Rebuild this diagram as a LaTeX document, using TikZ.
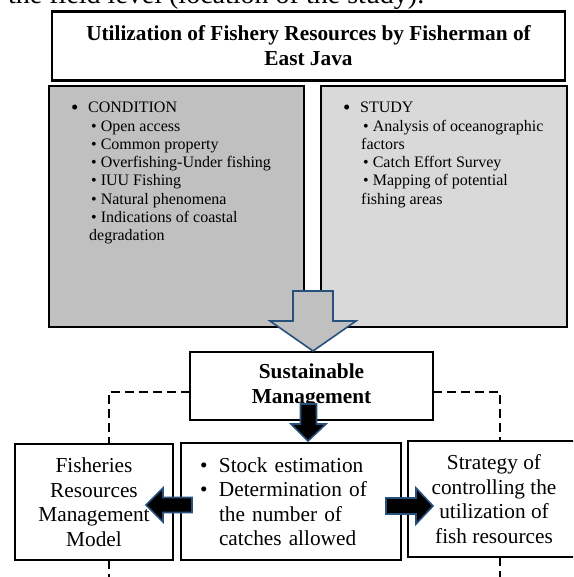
\documentclass[tikz,border=0pt]{standalone}
\usepackage{fontspec}
\setmainfont{Liberation Serif}
\usetikzlibrary{
    calc,
    positioning
}
\definecolor{arrowblue}{RGB}{40,80,125}
\definecolor{condgray}{RGB}{192,192,192}
\definecolor{studygray}{RGB}{217,217,217}
\newcommand{\headfont}{\bfseries\fontsize{21.3}{25}\selectfont}
\newcommand{\listfont}{\fontsize{16}{18.3}\selectfont}
\newcommand{\boxfont}{\fontsize{21.3}{24.5}\selectfont}
\newcommand{\mainbullet}{\makebox[17pt][l]{\raisebox{-1.8pt}{\fontsize{21}{18.3}\selectfont\textbullet}}}
\tikzset{
    every picture/.style = {
        x = 1pt,
        y = -1pt
    },
    box/.style = {
        draw,
        line width = 2.5pt,
        fill = white,
        inner sep = 0pt,
        outer sep = 0pt,
        align = center,
        font = \boxfont
    },
    headbox/.style = {
        box,
        font = \headfont
    },
    greybox/.style = {
        box,
        fill = #1
    },
    listtext/.style = {
        anchor = north west,
        inner sep = 0pt,
        align = left,
        font = \listfont
    },
    blockarrow/.style = {
        draw = arrowblue,
        line width = 1.6pt,
        line join = miter,
        fill = #1
    },
    dashline/.style = {
        dash pattern = on 9pt off 5pt,
        line width = 1.8pt
    }
}

\begin{document}
\begin{tikzpicture}
    \path[use as bounding box, clip] (0, 0) rectangle (573, 577);

    \node[anchor = base west, inner sep = 0pt, font = \fontsize{28}{30}\selectfont] (bodytext) at (8, 4) {the field level (location of the study).};

    \node[headbox, minimum width = 513pt, minimum height = 69pt] (title) at (308.5, 46) {Utilization of Fishery Resources by Fisherman of\\ East Java};

    % condition / study boxes
    \node[greybox = condgray, anchor = north west, minimum width = 255pt, minimum height = 241pt] (condbox) at (49, 86) {};
    \node[greybox = studygray, anchor = north west, minimum width = 246pt, minimum height = 241pt] (studybox) at (321, 86) {};

    \node[listtext] (condtext) at (71, 102) {\mainbullet CONDITION\\
        \hspace*{20pt}\textbullet\ Open access\\
        \hspace*{20pt}\textbullet\ Common property\\
        \hspace*{20pt}\textbullet\ Overfishing-Under fishing\\
        \hspace*{20pt}\textbullet\ IUU Fishing\\
        \hspace*{20pt}\textbullet\ Natural phenomena\\
        \hspace*{20pt}\textbullet\ Indications of coastal\\
        \hspace*{18pt}degradation};
    \node[listtext] (studytext) at (343, 102) {\mainbullet STUDY\\
        \hspace*{20pt}\textbullet\ Analysis of oceanographic\\
        \hspace*{18pt}factors\\
        \hspace*{20pt}\textbullet\ Catch Effort Survey\\
        \hspace*{20pt}\textbullet\ Mapping of potential\\
        \hspace*{18pt}fishing areas};

    \node[headbox, minimum width = 243pt, minimum height = 68pt] (sustain) at (311.5, 386) {Sustainable\\ Management};

    % dashed links (drawn under the boxes)
    \coordinate (lcorner) at (109, 392);
    \coordinate (rcorner) at (500, 392);
    \coordinate (lbottom) at (109, 585);
    \coordinate (rbottom) at (500, 585);

    \node[box, minimum width = 158pt, minimum height = 116pt] (model) at (94, 502) {Fisheries\\ Resources\\ Management\\ Model};
    \node[box, align = left, text width = 182pt, inner xsep = 19pt, minimum height = 117pt] (stock) at (291, 501.5) {\makebox[19pt][l]{\textbullet}Stock estimation\\
        \makebox[19pt][l]{\textbullet}Determination of\\
        \hspace*{19pt}the number of\\
        \hspace*{19pt}catches allowed};
    \node[box, minimum width = 172pt, minimum height = 116pt] (strategy) at (494, 499) {Strategy of\\ controlling the\\ utilization of\\ fish resources};

    \draw[dashline] (sustain.west |- lcorner) -- (lcorner) -- (lcorner |- model.north);
    \draw[dashline] (lcorner |- model.south) -- (lbottom);
    \draw[dashline] (sustain.east |- rcorner) -- (rcorner) -- (rcorner |- strategy.north);
    \draw[dashline] (rcorner |- strategy.south) -- (rbottom);

    % block arrows
    \filldraw[blockarrow = condgray] ($(sustain.north) + (1.5, -1)$) -- ++(-43, -30) -- ++(23, 0) -- ++(0, -30) -- ++(40, 0) -- ++(0, 30) -- ++(23, 0) -- cycle;
    \filldraw[blockarrow = black] ($(sustain.south) + (-3.5, 21)$) -- ++(-17, -17) -- ++(9.5, 0) -- ++(0, -20) -- ++(16, 0) -- ++(0, 20) -- ++(9.5, 0) -- cycle;
    \filldraw[blockarrow = black] ($(stock.west) + (-35, 3.5)$) -- ++(17, -17) -- ++(0, 9.5) -- ++(29, 0) -- ++(0, 15) -- ++(-29, 0) -- ++(0, 9.5) -- cycle;
    \filldraw[blockarrow = black] ($(strategy.west) + (25, 7)$) -- ++(-17, -18) -- ++(0, 10) -- ++(-30, 0) -- ++(0, 16) -- ++(30, 0) -- ++(0, 10) -- cycle;
\end{tikzpicture}
\end{document}
